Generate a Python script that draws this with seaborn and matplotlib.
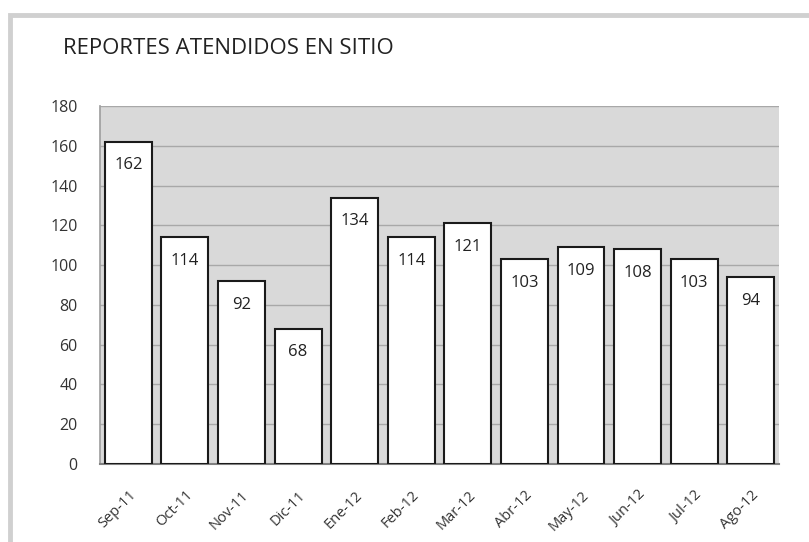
import matplotlib
matplotlib.use('Agg')
import matplotlib.pyplot as plt
import seaborn as sns
import pandas as pd
from matplotlib.patches import Rectangle

# Data
meses = ['Sep-11', 'Oct-11', 'Nov-11', 'Dic-11', 'Ene-12', 'Feb-12',
         'Mar-12', 'Abr-12', 'May-12', 'Jun-12', 'Jul-12', 'Ago-12']
reportes = [162, 114, 92, 68, 134, 114, 121, 103, 109, 108, 103, 94]

df = pd.DataFrame({'mes': meses, 'reportes': reportes})

sns.set_theme(style='white')
plt.rcParams['font.family'] = ['Open Sans', 'DejaVu Sans']

fig = plt.figure(figsize=(8.09, 5.42), dpi=100)
ax = fig.add_axes([0.1236, 0.1439, 0.963 - 0.1236, 0.8044 - 0.1439])

# outer chart frame (only top/left visible in the original)
fig.patches.append(Rectangle((10 / 809, -0.1), 1.2, 1 - 15 / 542 + 0.1,
                             transform=fig.transFigure, fill=False,
                             edgecolor='#d0d0d0', linewidth=3.5, zorder=0))

sns.barplot(data=df, x='mes', y='reportes', color='white', edgecolor='#1a1a1a',
            linewidth=1.5, width=0.83, saturation=1, ax=ax, zorder=3)

ax.set_facecolor('#d9d9d9')
ax.set_ylim(0, 180)
ax.set_xlim(-0.5, len(meses) - 0.5)
ax.set_yticks(range(0, 181, 20))
ax.yaxis.grid(True, color='#a8a8a8', linewidth=1)
ax.set_axisbelow(True)
for s in ['top', 'right']:
    ax.spines[s].set_visible(False)
ax.spines['left'].set_color('#a0a0a0')
ax.spines['bottom'].set_color('#808080')
ax.spines['bottom'].set_linewidth(1.5)
ax.tick_params(axis='x', length=0, labelsize=10.5, colors='#333333', pad=17)
ax.tick_params(axis='y', length=0, labelsize=11.5, colors='#333333', pad=16)
plt.setp(ax.get_xticklabels(), rotation=45, ha='right', rotation_mode='anchor')
ax.set_xlabel('')
ax.set_ylabel('')

for i, v in enumerate(reportes):
    ax.annotate(str(v), (i, v), xytext=(0, -17), textcoords='offset points',
                ha='center', va='center', fontsize=12, color='#222222', zorder=5)

fig.text(63 / 809, 1 - 49 / 542, 'REPORTES ATENDIDOS EN SITIO', fontsize=16,
         color='#222222', va='center', ha='left')

fig.savefig('out.png', dpi=100)
